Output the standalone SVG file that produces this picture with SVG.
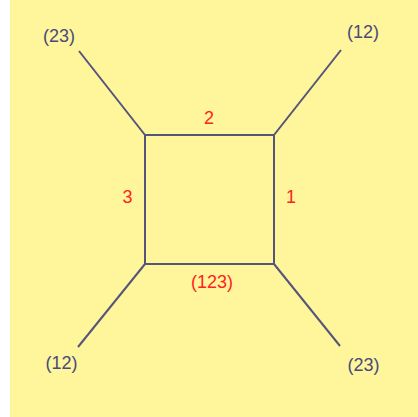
<svg xmlns="http://www.w3.org/2000/svg" width="418" height="417" viewBox="0 0 418 417">
<style>
.e{stroke:#55557a;stroke-width:2;fill:none}
.t{font-family:"Liberation Sans",Arial,sans-serif;font-size:18px;fill:#4a4a7c;text-anchor:middle}
.r{font-family:"Liberation Sans",Arial,sans-serif;font-size:18px;fill:#ff2222;text-anchor:middle}
</style>
<rect x="0" y="0" width="418" height="417" fill="#ffffff"/>
<rect x="10" y="0" width="408" height="417" fill="#fff59b"/>
<g id="connectors">
<line class="e" x1="145" y1="135" x2="274" y2="135"/>
<line class="e" x1="274" y1="135" x2="274" y2="264"/>
<line class="e" x1="274" y1="264" x2="145" y2="264"/>
<line class="e" x1="145" y1="264" x2="145" y2="135"/>
<line class="e" x1="145" y1="135" x2="79" y2="51"/>
<line class="e" x1="274" y1="135" x2="341" y2="50"/>
<line class="e" x1="145" y1="264" x2="78" y2="347"/>
<line class="e" x1="274" y1="264" x2="340" y2="346"/>
</g>
<g id="edge-labels">
<text class="r" x="209" y="123.5">2</text>
<text class="r" x="291" y="203">1</text>
<text class="r" x="127.5" y="202.5">3</text>
<text class="r" x="212" y="288">(123)</text>
</g>
<g id="n-tl"><text class="t" x="59" y="41.5">(23)</text></g>
<g id="n-tr"><text class="t" x="363" y="37.5">(12)</text></g>
<g id="n-bl"><text class="t" x="61.5" y="369">(12)</text></g>
<g id="n-br"><text class="t" x="363.5" y="371">(23)</text></g>
</svg>
